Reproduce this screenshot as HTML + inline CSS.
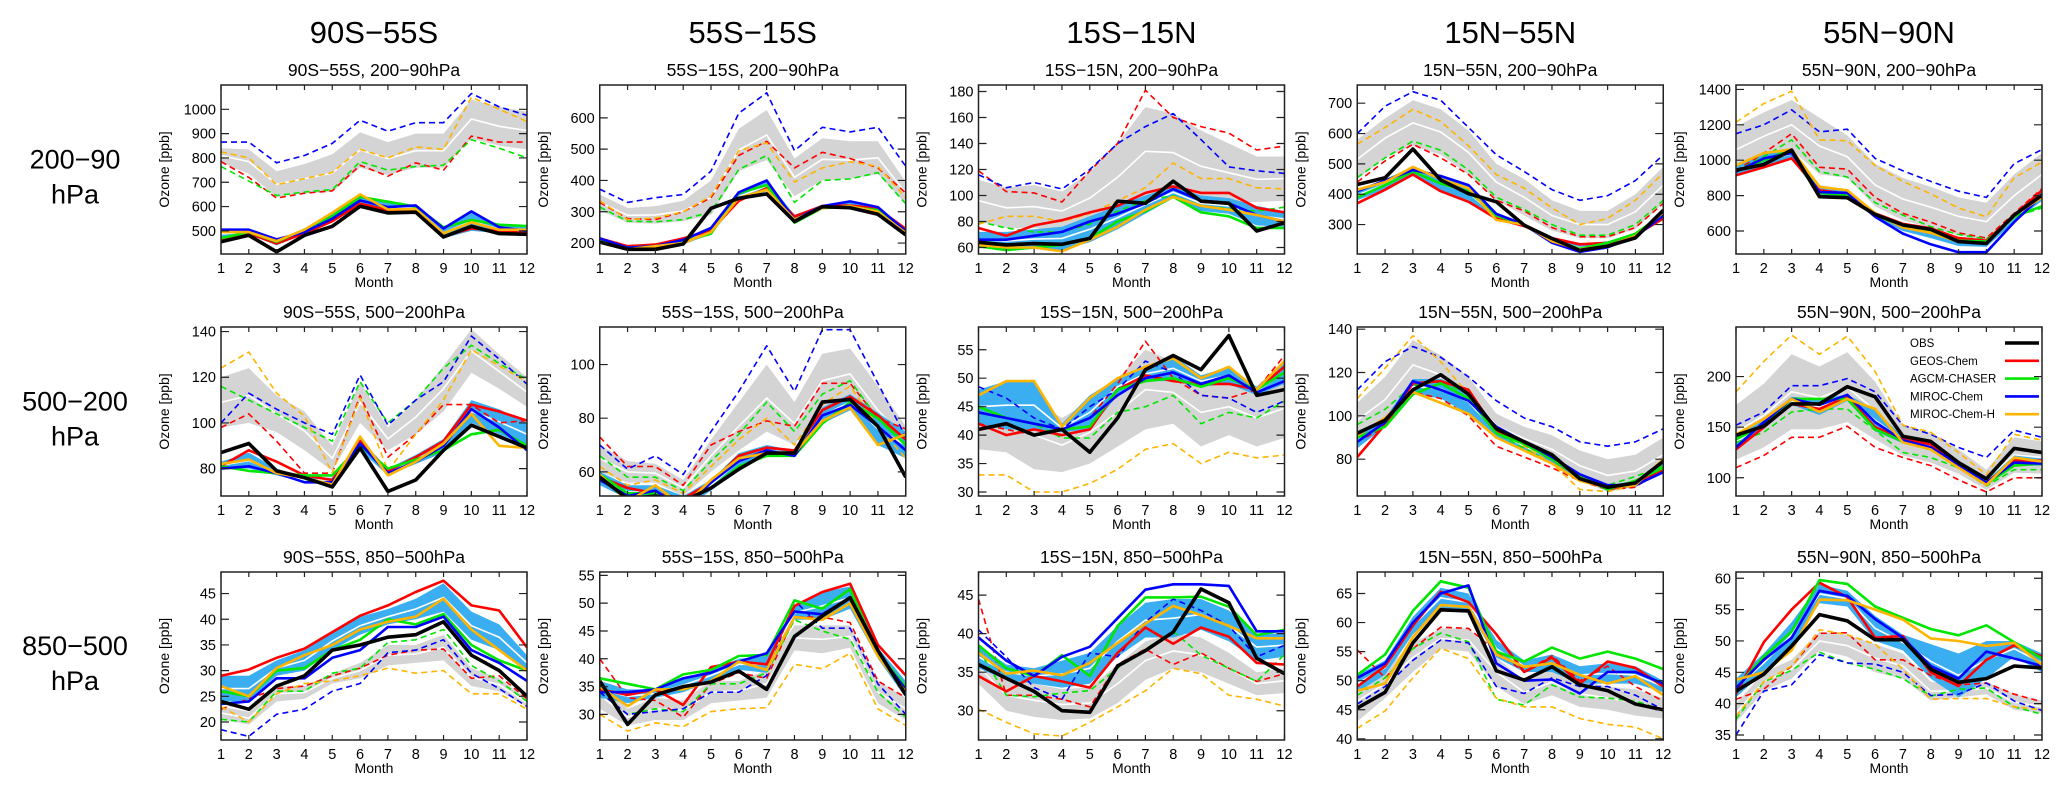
<!DOCTYPE html>
<html><head><meta charset="utf-8"><title>Ozone seasonal cycles</title>
<style>
html,body{margin:0;padding:0;background:#fff;}
svg{display:block;font-family:"Liberation Sans",Arial,sans-serif;}
</style></head>
<body>
<svg id="chart" width="2067" height="794" viewBox="0 0 2067 794" xmlns="http://www.w3.org/2000/svg"></svg>
<script>
const MONTHS = [1,2,3,4,5,6,7,8,9,10,11,12];
const COL_TITLES = ["90S\u221255S","55S\u221215S","15S\u221215N","15N\u221255N","55N\u221290N"];
const LAYER_NAMES = ["200\u221290hPa","500\u2212200hPa","850\u2212500hPa"];
const ROW_LABELS = ["200\u221290","500\u2212200","850\u2212500"];
const LEGEND_NAMES = ["OBS","GEOS-Chem","AGCM-CHASER","MIROC-Chem","MIROC-Chem-H"];

const YMIN = [405,165,55,203,470, 68,51,29.3,63,82, 16.5,25.4,26.2,39.8,34.2];
const YMAX = [1100,705,185,760,1425, 142,114,59,141,249, 49.2,55.6,48,68.7,61];
const YTICKS = [
 [500,600,700,800,900,1000],[200,300,400,500,600],[60,80,100,120,140,160,180],[300,400,500,600,700],[600,800,1000,1200,1400],
 [80,100,120,140],[60,80,100],[30,35,40,45,50,55],[80,100,120,140],[100,150,200],
 [20,25,30,35,40,45],[30,35,40,45,50,55],[30,35,40,45],[40,45,50,55,60,65],[35,40,45,50,55,60]
];

const OBS = [
 [455,482,414,482,519,601,574,577,475,519,489,486],
 [203,180,180,197,311,343,357,269,316,313,292,226],
 [64,62,63,62.5,67,95.6,94,111,95.6,94,72.7,79],
 [432,454,549,447,402,375,298,254,215,229,256,347],
 [944,976,1057,794,788,694,634,609,540,530,690,803],
 [87,91,79,76,72,89,70,75,88,99,94,89],
 [58,50,51,49,54,61,67,67,86,87,77,58],
 [41,42,40,41,37,43,51.5,54,51.5,57.5,47,48],
 [92,98,112,119,110,94,88,82,71,67,69,79],
 [142,151,173,173,190,180,141,136,115,99,129,125],
 [24,22.5,27,29,34,35,36.5,37,39.5,33,30,25],
 [36,28.2,33.5,35,35.8,37.8,34.5,44,47.7,51,41.5,33.5],
 [36,34.2,32.5,30,29.8,35.8,37.8,40.2,45.8,44,36.8,34.8],
 [45.3,48,56.5,62.2,62,51.7,50.1,52.4,49.3,48.3,46,45],
 [42,44.7,49.2,54.2,53.2,50.2,50.2,45.5,43.4,44,46,45.7]
];
const GEOS = [
 [465,490,448,490,540,612,585,590,478,510,500,490],
 [215,190,195,215,240,335,375,285,318,320,310,245],
 [75,69,77,81,87,92,102,107,102,102,90.5,87],
 [370,415,465,410,375,320,295,255,235,240,265,320],
 [915,960,1010,830,810,700,640,615,560,545,690,830],
 [81,88,83,77,75,92,79,85,92,108,105,101],
 [58,54,52,50,56,66,69,68,83,88,81,72],
 [42,40,41,40,41,48,50.5,49.5,49,49,48,52],
 [81,96,115,116,112,93,87,80,72,66,69,75],
 [128,150,173,168,180,150,138,133,115,95,117,117],
 [29,30.2,32.5,34.3,37.5,40.7,42.7,45.3,47.5,42.7,41.7,34.5],
 [34.5,33.5,34.5,31.7,38.5,39.5,39,49.5,52,53.5,42.5,37],
 [34.5,32.5,34.5,33.8,33,37.5,40.8,38.7,40.8,39.6,36.2,36],
 [49,52.5,59.5,65.3,63.5,58,51.5,54,49.5,53.3,52.2,49],
 [41.6,49.8,55,59.3,57,50.5,50.8,45,42.8,47,49.3,47.5]
];
const CHASER = [
 [470,495,455,505,560,640,620,600,515,545,525,520],
 [210,185,190,205,230,360,385,265,312,315,305,235],
 [61,58,60,62,67,80,88,99,87,84,75,75],
 [390,430,475,435,410,330,300,250,220,240,270,335],
 [935,1000,1060,815,805,690,625,600,545,540,680,740],
 [81,79,78,77,77,90,80,84,88,95,97,90],
 [59,52,52,49,54,62,66,66,78,86,80,70],
 [45,43,42,41,41.5,48,49.5,50,48.5,50,48,51],
 [90,95,110,115,108,92,87,80,72,66,70,76],
 [138,152,178,178,178,148,136,128,113,94,112,114],
 [26,25,30,30.5,34,36,40,39,41,35,32,30],
 [36.5,35.5,34.5,37.2,38,40.5,40.7,50.5,49,52.5,41,35],
 [38.5,35.5,34.5,37.2,34.5,41,44.7,44.7,44.8,43.5,39.8,40.5],
 [51,54.5,62,67.1,66,55,53.3,55.7,53.8,55,53.8,52],
 [42.5,47.5,51.5,59.7,59.1,55.5,53.7,51.9,50.9,52.5,49.8,47.2]
];
const MIROC = [
 [505,505,465,495,550,625,598,605,510,580,515,500],
 [215,185,190,210,248,362,400,275,318,333,315,238],
 [66,66,69,72,80,86,94,105,96,94,85,80],
 [410,445,480,460,430,335,300,240,210,225,260,330],
 [935,1010,1040,820,815,680,585,525,480,480,650,800],
 [80,81,78,74,74,91,78,83,90,106,98,88],
 [57,51,53,46,56,64,68,66,81,85,77,68],
 [44,43,42,41,43,47,50,51,49,50.5,47.5,49.5],
 [88,97,116,112,107,95,88,81,73,68,68,74],
 [130,155,178,172,182,155,137,130,113,95,115,114],
 [23.5,24,28.5,28.5,32.5,34,38.5,38.5,40.5,34,31.5,28],
 [34,34,34.5,36.5,37.5,39.5,41,48.5,48,51,41,34.5],
 [39.5,36.5,34.5,37,38.3,42,45.7,46.4,46.4,46.2,40.3,40.3],
 [50.5,53,60,65,66.4,53,50,50.2,47.8,51.5,51.5,49.5],
 [42.5,47,50.5,58,57.2,53.5,50.5,46,44,48.3,47.2,46]
];
const MIROCH = [
 [495,495,458,505,575,650,588,590,490,535,505,505],
 [205,180,190,200,235,345,370,275,312,318,300,232],
 [62,60,60,57,66,76,89,99,92,89,85,80],
 [415,440,490,450,420,315,300,245,218,230,262,340],
 [970,1040,1060,850,830,700,620,590,540,530,690,790],
 [82,84,78,76,73,94,77,83,91,104,90,89],
 [59,49,55,47,57,65,67,67,79,84,70,74],
 [47,49.5,49.5,41.5,46.5,50,52,53.5,50,52,48,53],
 [91,99,111,106,101,90,84,78,70,67,68,80],
 [143,158,178,165,178,168,135,128,110,93,120,116],
 [27,25,30.5,33,35,38,39.5,40.5,44,38,34,30],
 [35,31.5,34.5,34.5,36,39.5,38,47.5,47,50,40.5,34],
 [37.5,34.8,35.2,34.6,36.2,38.8,41.3,43.6,42.4,41,39.4,39.4],
 [48.3,49.5,57.5,63,62.7,54.5,52.4,53,51,49.5,50.8,47.5],
 [43.8,45,48.5,56.6,56.5,55,53.4,50.4,50,49.2,49.7,46.2]
];
const GEOS_D = [
 [785,720,635,655,665,770,725,780,750,890,865,865],
 [330,278,275,300,345,480,525,440,490,470,440,360],
 [119,103,102,95,119,140,181,160,153,148,135,138],
 [440,510,565,520,465,380,345,290,260,260,290,370],
 [940,1040,1150,960,950,790,700,650,590,560,700,840],
 [98,104,92,78,78,112,85,95,108,108,100,101],
 [73,62,62,55,70,75,79,77,93,93,80,76],
 [42,41,40,41,43,49,56.5,50,47,46.5,48,54],
 [88,95,111,108,100,86,81,76,70,66,67,76],
 [110,122,140,140,151,130,120,112,98,86,100,100],
 [22.5,24.5,26.5,27,29,30.5,33,34,34.2,28.5,29,24.5],
 [40,33,32.5,29.5,35.5,37.5,36.5,47.5,47.5,46.5,36,33],
 [44.5,32,32,31.5,30.5,36,38,36,37.5,35.5,33.8,34.8],
 [55.3,50.5,55.5,59.2,59,55,51.5,54.3,50,52.5,49,46.5],
 [40.7,42.3,46,51.2,51.3,47,47,44.5,43,43.3,41.5,40.3]
];
const CHASER_D = [
 [765,705,645,660,670,785,750,765,770,875,840,800],
 [315,270,268,275,300,435,480,330,400,405,425,325],
 [80,75,72,72,78,88,96,100,92,90,88,91],
 [455,520,575,545,480,390,350,300,265,265,300,380],
 [940,1020,1115,935,905,760,690,625,580,555,680,730],
 [116,110,104,98,92,118,100,110,124,134,126,119],
 [66,58,58,53,64,74,86,75,89,94,80,72],
 [44,43,42,39.5,39.5,44,45,47,42,44,43,46],
 [96,103,114,116,110,92,85,78,73,68,72,77],
 [135,145,165,168,168,147,125,120,110,92,108,108],
 [20.5,20,26,26,29.5,30.5,35.5,36,38,31,28,24],
 [34,30,31,30.5,35.5,35.5,37.5,47,45,43.5,34,29.5],
 [38,32,31.8,32.3,32.6,35.5,38,40.3,37.2,35.5,33.8,37.3],
 [47.5,50.5,55.5,58.2,56.7,46.8,45.8,49.3,47.2,47,46.5,45],
 [37.5,43.5,45.3,48.2,46.5,45.5,44,41.2,42.3,42.5,39.5,38.3]
];
const MIROC_D = [
 [865,865,780,810,860,955,910,945,945,1065,1010,975],
 [372,330,345,355,430,615,680,495,570,555,570,445],
 [116,106,110,105,120,140,153,163,143,122,119,117],
 [600,690,738,710,620,530,475,415,380,395,445,530],
 [1150,1200,1285,1160,1175,1010,940,880,825,790,980,1060],
 [100,113,106,100,95,121,99,110,118,138,128,117],
 [70,61,66,59,75,90,107,90,113,113,93,73],
 [48.5,46.5,43,41,45,48,53,51,47,46.5,44,46],
 [112,125,132,127,118,107,99,95,88,86,88,94],
 [152,165,191,191,198,185,152,143,130,120,147,140],
 [18.5,17.2,21.5,22.5,26,27.5,33.5,34,36,29.5,26.5,23],
 [34,30,30.5,31,34,34,37,50.5,45.5,45.5,35.5,30],
 [40.5,37,33,31.5,37.5,37,41.5,44.5,43,41,37,38.5],
 [46,49,53.5,57,56.5,49,47.8,50.5,49,49,47.5,45],
 [35,42,43,47.8,46.5,46.3,45,41.3,41.5,43.3,40.4,38.9]
];
const MIROCH_D = [
 [825,800,690,715,740,835,800,845,835,1050,1000,950],
 [335,275,280,300,350,495,520,395,440,460,445,345],
 [78,84,84,80,86,96,106,125,113,113,106,105],
 [565,620,680,640,560,465,420,355,300,320,380,470],
 [1215,1320,1390,1115,1110,970,880,810,730,680,900,990],
 [124,131,113,103,78,111,79,95,110,132,125,118],
 [62,55,57,52,62,72,80,70,85,92,77,65],
 [33,33,30,30,31.5,34,37.5,38.5,35,37,36,36.5],
 [108,122,137,125,110,94,86,78,66,65,68,80],
 [185,215,241,222,240,205,152,145,125,103,143,137],
 [23,20,25.5,27.5,28,29,30.5,29.5,30,25.5,25.5,22.5],
 [30,27,28.5,27.8,30.5,31,31.2,39,38.2,41,31,28],
 [30.2,28.5,27,26.7,28.5,30.5,32.6,35.5,34.8,32,31.5,30.6],
 [41.8,44.8,50.5,55.6,53.8,47,45.5,45.5,43.5,42.5,42,40],
 [38,43.5,46,51.8,51,49.5,45.5,40.7,40.8,40.8,39.5,39]
];
const GRAY_LO = [
 [780,735,640,655,660,760,730,760,760,880,850,835],
 [305,265,262,270,290,430,465,350,400,405,420,325],
 [80,75,75,73,78,88,100,103,95,95,95,96],
 [450,520,560,530,465,380,330,280,255,255,285,370],
 [930,1000,1060,920,900,740,660,620,575,545,680,800],
 [98,100,96,88,79,100,88,95,105,122,115,107],
 [60,56,56,51,60,68,75,70,84,87,74,67],
 [37.5,37,34,33.5,35,38,41,42,38,40,38,39.5],
 [90,97,112,110,102,90,84,78,70,65,67,74],
 [118,130,148,148,155,138,122,115,104,88,105,104],
 [20.5,19.5,24,24.5,27.5,28.5,31,31.5,32,27,26,23],
 [31,28,29,29,32,32.5,33,41.5,41,42,32,29],
 [33.5,30,29.2,28.8,29,31,34,35.5,35,33.5,32,32.3],
 [43,47,51.5,55.5,55,49,46,47.5,45.5,45,44,43.5],
 [37,42,44,48.5,47.5,45,44,40.5,41,41.5,39,38.5]
];
const GRAY_HI = [
 [840,835,745,775,815,905,865,900,900,1040,1010,990],
 [355,312,318,335,400,565,625,470,535,525,525,395],
 [112,106,108,103,118,140,168,163,150,140,130,130],
 [580,650,710,680,610,500,450,380,345,345,400,490],
 [1190,1270,1340,1240,1140,980,900,850,790,760,920,1040],
 [120,124,112,105,90,118,98,110,125,141,130,120],
 [70,64,63,57,72,86,100,86,104,106,92,77],
 [48,47,46,43,46,50,55,53,50,50,48,50],
 [106,118,135,128,118,101,95,91,84,80,82,90],
 [172,193,222,210,224,195,152,145,128,108,140,136],
 [23,22,27,27,29.5,31.5,35,35,37,30.5,28.5,24.5],
 [36,31,33,32.5,36,36,38,46,46,46,36,33],
 [38,34,33.5,32.8,33,36,39,40,39.5,37.5,35,35.5],
 [50,52,56.5,59,59,54,50,52,50,49,48.5,47],
 [40,45,47,51.5,51,49.5,48,43.5,43,43.5,41.5,40.5]
];
const CYAN_LO = [
 [470,485,440,490,540,600,575,580,470,500,490,485],
 [200,178,185,195,228,335,365,265,308,310,295,228],
 [60,58,59,58,64,74,86,98,88,86,77,76],
 [380,415,465,410,380,315,293,240,212,225,258,320],
 [915,965,1005,800,790,675,600,560,515,510,650,770],
 [80,80,77,74,74,88,77,82,87,100,95,90],
 [55,50,50,46,53,61,66,66,78,83,70,65],
 [42,41,41,40.5,41,47,49.5,49.5,48.5,49,47,49],
 [85,95,110,108,101,90,84,78,70,66,67,74],
 [128,148,172,162,176,146,134,127,110,92,112,112],
 [24,24,29,30,34,37,39,40,41.5,36,34,30],
 [33,32,33,34,36,38,37.5,47,47,49,40,33],
 [35.5,34,33.5,33,33.5,37,39.5,39.5,40.5,39,36.5,37],
 [48,51,58,62.5,62,54,51.5,51.5,49.5,49.5,49.5,48],
 [41,45,49,56,55.5,50,48.5,44,41,44,47.5,45]
];
const CYAN_HI = [
 [505,505,465,505,575,645,620,605,515,580,525,520],
 [215,190,195,215,248,362,400,290,320,333,315,245],
 [72,72,74,76,84,92,100,107,100,98,92,88],
 [415,450,490,460,430,335,302,255,235,245,270,345],
 [975,1040,1065,850,835,705,640,615,565,550,700,830],
 [83,87,80,76,76,93,80,86,93,110,106,100],
 [60,55,55,51,57,67,70,68,84,89,82,75],
 [48,49.5,49.5,42,47,50,52,54,50.5,52,48.5,53],
 [92,99,117,117,112,95,88,82,73,68,70,79],
 [143,158,180,178,182,168,140,135,116,97,122,119],
 [29,29,32,34,37.5,40.5,42,44,47,41.5,39,33],
 [36,34.5,34.5,36.5,38,40,40.5,49.5,52,53,42,36],
 [38.5,36,35.5,36.5,37.5,41,44,44.5,44.5,43,40,40],
 [51,53.5,61,66,65,57,53.5,54.5,52.5,53,52.5,50],
 [44,48,53,59,58,54,51,49.5,48,50,50,48]
];

const NS = "http://www.w3.org/2000/svg";
const svg = document.getElementById("chart");
const COL_LEFT0 = 221, COL_STEP = 378.75, PW = 306;
const ROW_TOP = [85, 327, 572], PH = [169, 169, 168];
const C_RED = "#ff0000", C_GREEN = "#00e600", C_BLUE = "#0000ff", C_ORANGE = "#ffb400", C_CYAN = "#3aaef0", C_GRAY = "#d4d4d4";

function mk(tag, attrs, parent) {
  const e = document.createElementNS(NS, tag);
  for (const k in attrs) e.setAttribute(k, attrs[k]);
  (parent || svg).appendChild(e);
  return e;
}
function txt(str, attrs, parent) {
  const e = mk("text", attrs, parent);
  e.textContent = str;
  return e;
}
function xPos(p, m) { const c = p % 5; return COL_LEFT0 + c * COL_STEP + (m - 1) / 11 * PW; }
function yPos(p, v) { const r = Math.floor(p / 5); return ROW_TOP[r] + PH[r] * (YMAX[p] - v) / (YMAX[p] - YMIN[p]); }
function pts(p, arr) { return arr.map((v, i) => xPos(p, MONTHS[i]).toFixed(1) + "," + yPos(p, v).toFixed(1)).join(" "); }

// column headers
for (let c = 0; c < 5; c++) {
  const t = txt(COL_TITLES[c], {x: COL_LEFT0 + c * COL_STEP + PW / 2, y: 43, "font-size": 31, "text-anchor": "middle", fill: "#000"});
  
  
}
// row labels
for (let r = 0; r < 3; r++) {
  const cy = ROW_TOP[r] + PH[r] / 2;
  const t1 = txt(ROW_LABELS[r], {x: 75, y: cy - 1, "font-size": 27, "text-anchor": "middle", fill: "#000"});
  
  
  const t2 = txt("hPa", {x: 75, y: cy + 34, "font-size": 27, "text-anchor": "middle", fill: "#000"});
  
  
}

function line(p, arr, color, w, dash, name, g) {
  const a = {points: pts(p, arr), fill: "none", stroke: color, "stroke-width": w, "stroke-linejoin": "round"};
  if (dash) a["stroke-dasharray"] = dash;
  const e = mk("polyline", a, g);
  
  
}
function band(p, lo, hi, color, name, g) {
  const top = hi.map((v, i) => xPos(p, MONTHS[i]).toFixed(1) + "," + yPos(p, v).toFixed(1));
  const bot = lo.map((v, i) => xPos(p, MONTHS[i]).toFixed(1) + "," + yPos(p, v).toFixed(1)).reverse();
  const e = mk("polygon", {points: top.concat(bot).join(" "), fill: color, stroke: "none"}, g);
  
  
  const mid = lo.map((v, i) => (v + hi[i]) / 2);
  const m = mk("polyline", {points: pts(p, mid), fill: "none", stroke: "#fff", "stroke-width": 1.6}, g);
  
  
}

for (let p = 0; p < 15; p++) {
  const r = Math.floor(p / 5), c = p % 5;
  const L = COL_LEFT0 + c * COL_STEP, T = ROW_TOP[r], H = PH[r];
  const g = mk("g", {});
  
  
  const clipId = "clip" + p;
  const cp = mk("clipPath", {id: clipId}, g);
  mk("rect", {x: L, y: T, width: PW, height: H}, cp);

  const st = txt(COL_TITLES[c] + ", " + LAYER_NAMES[r], {x: L + PW / 2, y: T - 9, "font-size": 17.5, "text-anchor": "middle", fill: "#000"}, g);
  
  

  const dg = mk("g", {"clip-path": "url(#" + clipId + ")"}, g);
  
  
  band(p, GRAY_LO[p], GRAY_HI[p], C_GRAY, 'multi-model-gray-band', dg);
  band(p, CYAN_LO[p], CYAN_HI[p], C_CYAN, 'multi-model-blue-band', dg);
  line(p, GEOS_D[p], C_RED, 1.6, "6,4", 'geos-chem-dashed', dg);
  line(p, CHASER_D[p], C_GREEN, 1.6, "6,4", 'agcm-chaser-dashed', dg);
  line(p, MIROC_D[p], C_BLUE, 1.6, "6,4", 'miroc-chem-dashed', dg);
  line(p, MIROCH_D[p], C_ORANGE, 1.6, "6,4", 'miroc-chem-h-dashed', dg);
  line(p, GEOS[p], C_RED, 2.6, null, 'geos-chem-line', dg);
  line(p, CHASER[p], C_GREEN, 2.6, null, 'agcm-chaser-line', dg);
  line(p, MIROC[p], C_BLUE, 2.6, null, 'miroc-chem-line', dg);
  line(p, MIROCH[p], C_ORANGE, 2.6, null, 'miroc-chem-h-line', dg);
  line(p, OBS[p], "#000", 3.6, null, 'obs-line', dg);

  const fr = mk("rect", {x: L, y: T, width: PW, height: H, fill: "none", stroke: "#222", "stroke-width": 1.5}, g);
  
  

  for (const m of MONTHS) {
    const x = xPos(p, m);
    const tk = mk("path", {d: "M" + x + " " + (T + H) + "v-5M" + x + " " + T + "v5", stroke: "#222", "stroke-width": 1.2}, g);
    
    
    const lb = txt(String(m), {x: x, y: T + H + 19, "font-size": 14.5, "text-anchor": "middle", fill: "#000"}, g);
    
    
  }
  for (const v of YTICKS[p]) {
    const y = yPos(p, v);
    const tk = mk("path", {d: "M" + L + " " + y + "h8M" + (L + PW) + " " + y + "h-8", stroke: "#222", "stroke-width": 1.2}, g);
    
    
    const lb = txt(String(v), {x: L - 5, y: y + 5, "font-size": 14.5, "text-anchor": "end", fill: "#000"}, g);
    
    
  }
  const xt = txt("Month", {x: L + PW / 2, y: T + H + 33, "font-size": 14, "text-anchor": "middle", fill: "#000"}, g);
  
  
  const yx = L - 52, yy = T + H / 2;
  const yt = txt("Ozone [ppb]", {x: yx, y: yy, "font-size": 14, "text-anchor": "middle", fill: "#000", transform: "rotate(-90 " + yx + " " + yy + ")"}, g);
  
  
}

// legend in panel row2 col5
const LEG_COLORS = ["#000", C_RED, C_GREEN, C_BLUE, C_ORANGE];
const legend = mk("g", {});


for (let i = 0; i < 5; i++) {
  const y = 343 + i * 17.8;
  const t = txt(LEGEND_NAMES[i], {x: 1910, y: y + 4, "font-size": 11.5, fill: "#000"}, legend);
  
  
  const l = mk("line", {x1: 2005, x2: 2039, y1: y, y2: y, stroke: LEG_COLORS[i], "stroke-width": i === 0 ? 3.5 : 2.6}, legend);
  
  
}
</script>
</body></html>
